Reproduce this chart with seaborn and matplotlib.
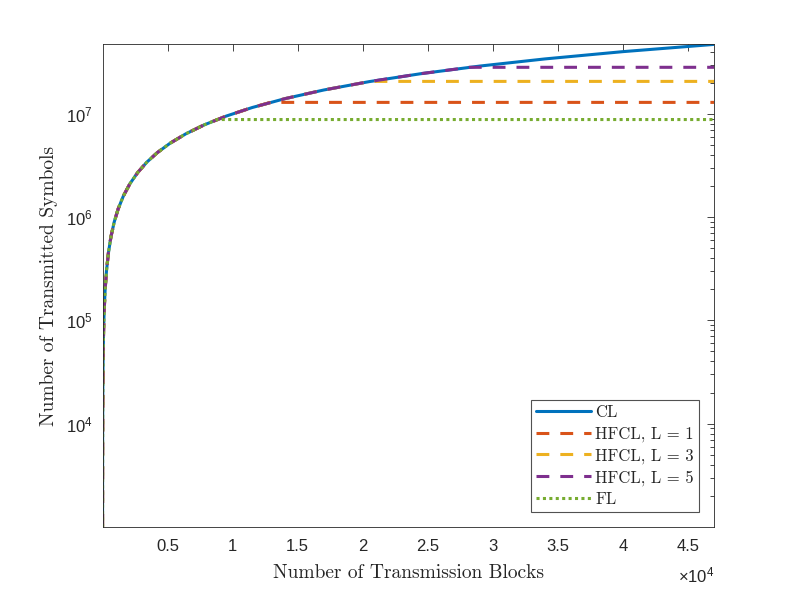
import numpy as np
import matplotlib
matplotlib.use("Agg")
import matplotlib.pyplot as plt
import seaborn as sns
from matplotlib.ticker import LogLocator, NullFormatter, FixedLocator

# values (x = transmission blocks, y = transmitted symbols)
cl_x = [1, 2, 3, 5, 8, 12, 20, 30, 50, 80, 120, 200, 300, 450, 650, 900, 1200, 1600,
        2100, 2700, 3400, 4200, 5200, 6400, 7800, 9500, 11500, 14000, 17000,
        20500, 24500, 29000, 34000, 40000, 47000]
cl_y = [1.0e3, 2.0e3, 3.0e3, 5.0e3, 8.0e3, 1.2e4, 2.0e4, 3.0e4, 5.0e4, 8.0e4, 1.2e5,
        2.0e5, 3.0e5, 4.5e5, 6.5e5, 9.0e5, 1.2e6, 1.6e6, 2.1e6, 2.7e6, 3.4e6, 4.2e6,
        5.2e6, 6.4e6, 7.8e6, 9.5e6, 1.15e7, 1.4e7, 1.7e7, 2.05e7, 2.45e7, 2.9e7,
        3.4e7, 4.0e7, 4.7e7]

fl_x = [1, 2, 3, 5, 8, 12, 20, 30, 50, 80, 120, 200, 300, 450, 650, 900, 1200, 1600,
        2100, 2700, 3400, 4200, 5200, 6400, 7800, 8800, 47000]
fl_y = [1.0e3, 2.0e3, 3.0e3, 5.0e3, 8.0e3, 1.2e4, 2.0e4, 3.0e4, 5.0e4, 8.0e4, 1.2e5,
        2.0e5, 3.0e5, 4.5e5, 6.5e5, 9.0e5, 1.2e6, 1.6e6, 2.1e6, 2.7e6, 3.4e6, 4.2e6,
        5.2e6, 6.4e6, 7.8e6, 8.8e6, 8.8e6]

h1_x = [1, 2, 3, 5, 8, 12, 20, 30, 50, 80, 120, 200, 300, 450, 650, 900, 1200, 1600,
        2100, 2700, 3400, 4200, 5200, 6400, 7800, 9500, 11500, 12900, 47000]
h1_y = [1.0e3, 2.0e3, 3.0e3, 5.0e3, 8.0e3, 1.2e4, 2.0e4, 3.0e4, 5.0e4, 8.0e4, 1.2e5,
        2.0e5, 3.0e5, 4.5e5, 6.5e5, 9.0e5, 1.2e6, 1.6e6, 2.1e6, 2.7e6, 3.4e6, 4.2e6,
        5.2e6, 6.4e6, 7.8e6, 9.5e6, 1.15e7, 1.29e7, 1.29e7]

h3_x = [1, 2, 3, 5, 8, 12, 20, 30, 50, 80, 120, 200, 300, 450, 650, 900, 1200, 1600,
        2100, 2700, 3400, 4200, 5200, 6400, 7800, 9500, 11500, 14000, 17000,
        20600, 47000]
h3_y = [1.0e3, 2.0e3, 3.0e3, 5.0e3, 8.0e3, 1.2e4, 2.0e4, 3.0e4, 5.0e4, 8.0e4, 1.2e5,
        2.0e5, 3.0e5, 4.5e5, 6.5e5, 9.0e5, 1.2e6, 1.6e6, 2.1e6, 2.7e6, 3.4e6, 4.2e6,
        5.2e6, 6.4e6, 7.8e6, 9.5e6, 1.15e7, 1.4e7, 1.7e7, 2.06e7, 2.06e7]

h5_x = [1, 2, 3, 5, 8, 12, 20, 30, 50, 80, 120, 200, 300, 450, 650, 900, 1200, 1600,
        2100, 2700, 3400, 4200, 5200, 6400, 7800, 9500, 11500, 14000, 17000,
        20500, 24500, 28200, 47000]
h5_y = [1.0e3, 2.0e3, 3.0e3, 5.0e3, 8.0e3, 1.2e4, 2.0e4, 3.0e4, 5.0e4, 8.0e4, 1.2e5,
        2.0e5, 3.0e5, 4.5e5, 6.5e5, 9.0e5, 1.2e6, 1.6e6, 2.1e6, 2.7e6, 3.4e6, 4.2e6,
        5.2e6, 6.4e6, 7.8e6, 9.5e6, 1.15e7, 1.4e7, 1.7e7, 2.05e7, 2.45e7, 2.82e7, 2.82e7]

x_ticks = [5000, 10000, 15000, 20000, 25000, 30000, 35000, 40000, 45000]
x_ticklabels = ["0.5", "1", "1.5", "2", "2.5", "3", "3.5", "4", "4.5"]
y_ticks = [1e4, 1e5, 1e6, 1e7]
y_ticklabels = [r"$\mathregular{10^{4}}$", r"$\mathregular{10^{5}}$",
                r"$\mathregular{10^{6}}$", r"$\mathregular{10^{7}}$"]
labels = ["CL", "HFCL, L = 1", "HFCL, L = 3", "HFCL, L = 5", "FL"]

sns.set_style("white")
plt.rcParams["font.family"] = ["Liberation Sans", "DejaVu Sans"]
plt.rcParams["mathtext.fontset"] = "custom"
plt.rcParams["mathtext.rm"] = "Liberation Sans"
plt.rcParams["axes.formatter.use_mathtext"] = True
serif = "cmr10"

fig = plt.figure(figsize=(7.89, 5.92), dpi=100)
ax = fig.add_axes([0.13, 0.11, 0.775, 0.815])

lw = 2.2
dash = (0, (4.2, 3.6))
sns.lineplot(x=cl_x, y=cl_y, ax=ax, color="#0072BD", lw=lw, label=labels[0], sort=False)
sns.lineplot(x=h1_x, y=h1_y, ax=ax, color="#D95319", lw=lw, sort=False,
             label=labels[1], linestyle=dash)
sns.lineplot(x=h3_x, y=h3_y, ax=ax, color="#EDB120", lw=lw, sort=False,
             label=labels[2], linestyle=dash)
sns.lineplot(x=h5_x, y=h5_y, ax=ax, color="#7E2F8E", lw=lw, sort=False,
             label=labels[3], linestyle=dash)
sns.lineplot(x=fl_x, y=fl_y, ax=ax, color="#77AC30", lw=lw, sort=False,
             label=labels[4], linestyle=(0, (1.0, 1.1)))

ax.set_yscale("log")
ax.set_xlim(1, 47000)
ax.set_ylim(1000, 4.7e7)

ax.set_xticks(x_ticks)
ax.set_xticklabels(x_ticklabels)
ax.yaxis.set_major_locator(FixedLocator(y_ticks))
ax.yaxis.set_minor_locator(LogLocator(base=10, subs=np.arange(2, 10)))
ax.yaxis.set_minor_formatter(NullFormatter())
ax.set_yticklabels(y_ticklabels)

tick_col = "#262626"
ax.tick_params(which="both", direction="in", top=True, right=True,
               colors=tick_col, labelsize=12, width=0.6)
ax.tick_params(which="major", length=5)
ax.tick_params(which="minor", length=3)
ax.tick_params(axis="x", pad=9)
ax.tick_params(axis="y", pad=7)
for s in ax.spines.values():
    s.set_color(tick_col)
    s.set_linewidth(0.6)

ax.text(1.0, -0.1, r"$\mathregular{\times10^{4}}$", transform=ax.transAxes,
        ha="right", va="center", fontsize=12, color=tick_col)

ax.set_xlabel("Number of Transmission Blocks", fontsize=14, family=serif,
              color=tick_col)
ax.xaxis.set_label_coords(0.5, -0.077)
ax.set_ylabel("Number of Transmitted Symbols", fontsize=14, family=serif,
              color=tick_col, labelpad=6)

leg = ax.legend(loc="lower right", prop={"family": serif, "size": 12},
                frameon=True, fancybox=False, handlelength=3.3, borderpad=0.3,
                labelspacing=0.36, handletextpad=0.25, borderaxespad=0.9)
leg.get_frame().set_edgecolor(tick_col)
leg.get_frame().set_linewidth(0.8)

fig.savefig("out.png", dpi=100)
